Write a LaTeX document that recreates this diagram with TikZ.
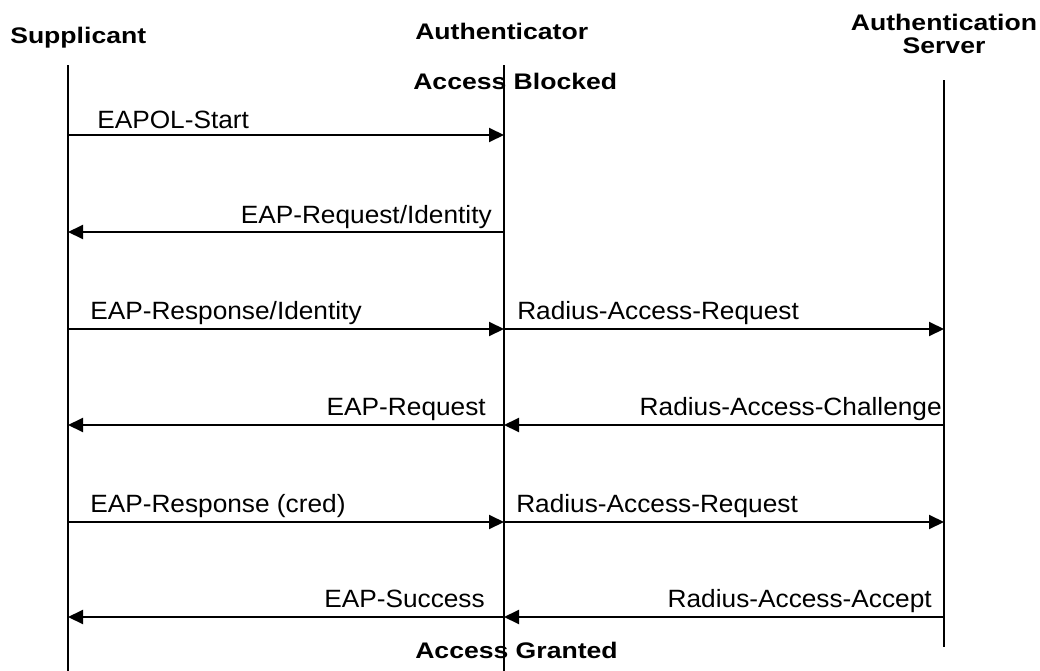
\documentclass[tikz,border=0pt]{standalone}
\usepackage{fontspec}
\setmainfont{Liberation Sans}[FakeStretch=1.05]
\newfontfamily\headfont{Liberation Sans}[FakeStretch=1.18]
\usetikzlibrary{arrows.meta}
\begin{document}
\begin{tikzpicture}[x=0.75pt,y=-0.75pt,
  lifeline/.style={line width=1.5pt},
  msg/.style={line width=1.5pt,-{Triangle[length=11.25pt,width=10.5pt]}},
  lbl/.style={inner sep=0pt,font=\fontsize{18.75}{22}\selectfont},
  role/.style={inner sep=0pt,font=\headfont\fontsize{16.9}{20}\selectfont\bfseries}]
\useasboundingbox (0,0) rectangle (1040,671);

% participants
\node[role,anchor=base west] (sup) at (10,43) {Supplicant};
\node[role,anchor=base west] (auth) at (415,40) {Authenticator};
\node[role,anchor=base] (srv1) at (944,31) {Authentication};
\node[role,anchor=base] (srv2) at (944,53) {Server};

% lifelines
\coordinate (sT) at (68,65);  \coordinate (sB) at (68,671);
\coordinate (aT) at (504,65); \coordinate (aB) at (504,671);
\coordinate (vT) at (944,80); \coordinate (vB) at (944,647);
\draw[lifeline] (sT) -- (sB);
\draw[lifeline] (aT) -- (aB);
\draw[lifeline] (vT) -- (vB);

% port states
\node[role,anchor=base west] (blocked) at (413,89) {Access Blocked};
\node[role,anchor=base west] (granted) at (415,658) {Access Granted};

% message rows on each lifeline
\foreach \i/\y in {1/135,2/232,3/329,4/425,5/522,6/617}{
  \coordinate (s\i) at (68,\y);
  \coordinate (a\i) at (504,\y);
  \coordinate (v\i) at (944,\y);
}

% supplicant <-> authenticator
\draw[msg] (s1) -- (a1);
\node[lbl,anchor=base west] (m1) at (97,128) {EAPOL-Start};
\draw[msg] (a2) -- (s2);
\node[lbl,anchor=base east] (m2) at (492,223) {EAP-Request/Identity};
\draw[msg] (s3) -- (a3);
\node[lbl,anchor=base west] (m3) at (90,319) {EAP-Response/Identity};
\draw[msg] (a4) -- (s4);
\node[lbl,anchor=base east] (m4) at (486,415) {EAP-Request};
\draw[msg] (s5) -- (a5);
\node[lbl,anchor=base west] (m5) at (90,512) {EAP-Response (cred)};
\draw[msg] (a6) -- (s6);
\node[lbl,anchor=base east] (m6) at (485,607) {EAP-Success};

% authenticator <-> authentication server
\draw[msg] (a3) -- (v3);
\node[lbl,anchor=base west] (r3) at (517,319) {Radius-Access-Request};
\draw[msg] (v4) -- (a4);
\node[lbl,anchor=base east] (r4) at (942,415) {Radius-Access-Challenge};
\draw[msg] (a5) -- (v5);
\node[lbl,anchor=base west] (r5) at (516,512) {Radius-Access-Request};
\draw[msg] (v6) -- (a6);
\node[lbl,anchor=base east] (r6) at (932,607) {Radius-Access-Accept};
\end{tikzpicture}
\end{document}
